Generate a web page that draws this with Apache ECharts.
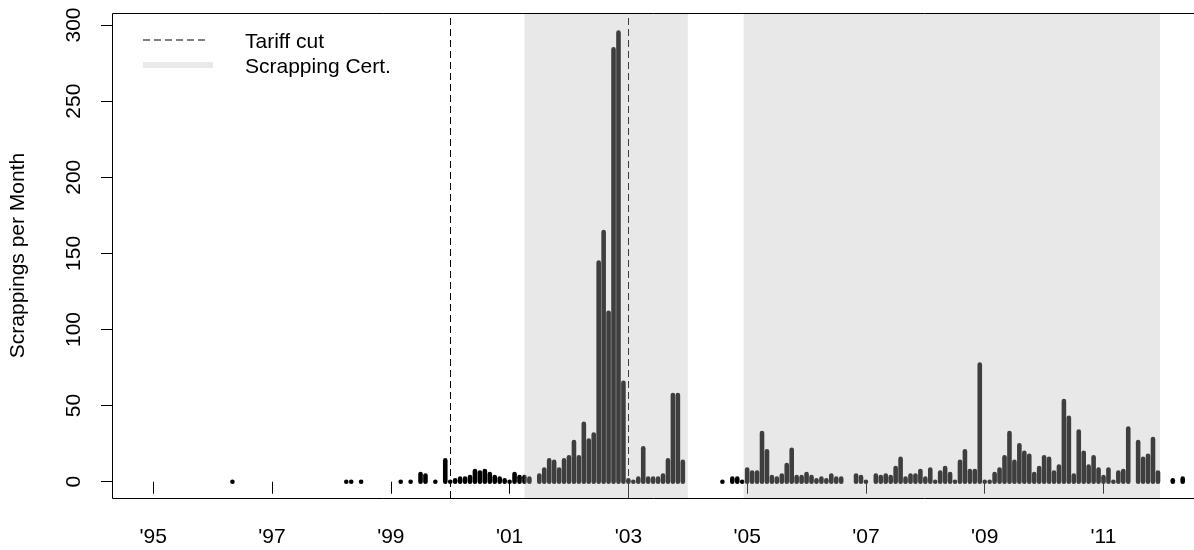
<!DOCTYPE html>
<html><head><meta charset="utf-8">
<script src="https://cdn.jsdelivr.net/npm/echarts@6/dist/echarts.min.js"></script>
<style>html,body{margin:0;padding:0;background:#fff}#c{width:1194px;height:550px}</style>
</head><body><div id="c"></div>
<script>
// ---- data ----
const months = [
"1996-05","1998-04","1998-05","1998-07","1999-03","1999-05","1999-07","1999-08","1999-10","1999-12",
"2000-01","2000-02","2000-03","2000-04","2000-05","2000-06","2000-07","2000-08","2000-09","2000-10","2000-11","2000-12",
"2001-01","2001-02","2001-03","2001-04","2001-05","2001-07","2001-08","2001-09","2001-10","2001-11","2001-12",
"2002-01","2002-02","2002-03","2002-04","2002-05","2002-06","2002-07","2002-08","2002-09","2002-10","2002-11","2002-12",
"2003-01","2003-02","2003-03","2003-04","2003-05","2003-06","2003-07","2003-08","2003-09","2003-10","2003-11","2003-12",
"2004-08","2004-10","2004-11","2004-12",
"2005-01","2005-02","2005-03","2005-04","2005-05","2005-06","2005-07","2005-08","2005-09","2005-10","2005-11","2005-12",
"2006-01","2006-02","2006-03","2006-04","2006-05","2006-06","2006-07","2006-08","2006-11","2006-12",
"2007-01","2007-03","2007-04","2007-05","2007-06","2007-07","2007-08","2007-09","2007-10","2007-11","2007-12",
"2008-01","2008-02","2008-03","2008-04","2008-05","2008-06","2008-07","2008-08","2008-09","2008-10","2008-11","2008-12",
"2009-01","2009-02","2009-03","2009-04","2009-05","2009-06","2009-07","2009-08","2009-09","2009-10","2009-11","2009-12",
"2010-01","2010-02","2010-03","2010-04","2010-05","2010-06","2010-07","2010-08","2010-09","2010-10","2010-11","2010-12",
"2011-01","2011-02","2011-03","2011-04","2011-05","2011-06","2011-08","2011-09","2011-10","2011-11","2011-12",
"2012-03","2012-05"
];
const counts = [
0,0,0,0,0,0,5,4,0,14,
0,1,2,2,3,7,6,7,5,3,2,1,
0,5,3,3,2,4,8,14,13,8,14,
16,26,16,38,27,31,144,164,111,284,295,65,
1,0,2,22,2,2,2,4,14,57,57,13,
0,2,2,0,
8,6,6,32,20,3,2,4,11,21,3,3,
5,3,1,2,1,4,2,2,4,3,
0,4,3,4,3,9,15,2,4,4,7,
2,8,0,6,9,5,0,13,20,7,7,77,
0,0,5,8,16,32,13,24,19,17,5,9,
16,15,6,10,53,42,4,33,19,10,16,8,
3,8,0,6,7,35,26,15,17,28,6,
1,2
];
const tariffCuts = [2000, 2003];
const certStart = [2001.25, 2004.94];
const certEnd = [2004.0, 2011.95];
const xTicks = [1995, 1997, 1999, 2001, 2003, 2005, 2007, 2009, 2011];
const yTicks = [0, 50, 100, 150, 200, 250, 300];

// ---- build ----
function toYear(s) { const p = s.split('-').map(Number); return p[0] + (p[1] - 1) / 12; }
const barData = months.map((m, i) => [toYear(m), counts[i]]);
const certData = certStart.map((s, i) => [s, certEnd[i]]);
const Y_MIN = -10.7, Y_MAX = 307.9;
const X_MIN = 1994.322, X_MAX = 2012.507;
const FONT = '"Liberation Sans", Arial, sans-serif';
const FS = 21;
const LW = 4.6;

const chart = echarts.init(document.getElementById('c'), null, { renderer: 'canvas' });
chart.setOption({
  animation: false,
  backgroundColor: '#fff',
  grid: { left: 112, top: 13, width: 1081, height: 485, show: false, containLabel: false },
  xAxis: {
    type: 'value', min: X_MIN, max: X_MAX,
    axisLine: { show: false }, splitLine: { show: false },
    axisTick: { show: true, customValues: xTicks, length: 12, lineStyle: { color: '#000', width: 1 } },
    axisLabel: { customValues: xTicks, formatter: v => "'" + String(v).slice(2), fontSize: FS, color: '#000', margin: 29, fontFamily: FONT }
  },
  yAxis: {
    type: 'value', min: Y_MIN, max: Y_MAX,
    axisLine: { show: false }, splitLine: { show: false },
    axisTick: { show: true, customValues: yTicks, length: 12, lineStyle: { color: '#000', width: 1 } },
    axisLabel: { customValues: yTicks, rotate: 90, fontSize: FS, color: '#000', margin: 28, fontFamily: FONT },
    name: 'Scrappings per Month', nameLocation: 'middle', nameRotate: 90, nameGap: 84,
    nameTextStyle: { fontSize: FS, color: '#000', fontFamily: FONT }
  },
  series: [
    {
      type: 'custom', z: 2, data: barData, encode: { x: 0, y: 1 }, silent: true,
      renderItem: function (params, api) {
        const p0 = api.coord([api.value(0), 0]);
        const p1 = api.coord([api.value(0), api.value(1)]);
        if (Math.abs(p0[1] - p1[1]) < 0.3) {
          return { type: 'circle', shape: { cx: p0[0], cy: p0[1], r: LW / 2 }, style: { fill: '#000' } };
        }
        return { type: 'line', shape: { x1: p0[0], y1: p0[1], x2: p1[0], y2: p1[1] },
                 style: { stroke: '#000', lineWidth: LW, lineCap: 'round' } };
      },
      markLine: {
        silent: true, symbol: ['none', 'none'], label: { show: false }, z: 5,
        lineStyle: { color: '#000', width: 1, type: [7, 4] },
        emphasis: { disabled: true },
        data: tariffCuts.map(x => ({ xAxis: x }))
      }
    },
    {
      type: 'custom', z: 10, data: certData, encode: { x: [0, 1] }, silent: true,
      renderItem: function (params, api) {
        const a = api.coord([api.value(0), Y_MAX]);
        const b = api.coord([api.value(1), Y_MIN]);
        return { type: 'rect', shape: { x: a[0], y: a[1], width: b[0] - a[0], height: b[1] - a[1] },
                 style: { fill: 'rgba(186,186,186,0.333)' } };
      }
    }
  ],
  graphic: [
    { type: 'rect', z: 20, shape: { x: 112.5, y: 13.5, width: 1100, height: 485 }, style: { fill: 'none', stroke: '#000', lineWidth: 1 } },
    { type: 'line', shape: { x1: 143, y1: 40, x2: 207, y2: 40 }, style: { stroke: '#000', lineWidth: 1, lineDash: [7, 4] } },
    { type: 'line', shape: { x1: 143, y1: 65, x2: 213, y2: 65 }, style: { stroke: '#e9e9e9', lineWidth: 6 } },
    { type: 'text', x: 245, y: 42, style: { text: 'Tariff cut', fill: '#000', font: FS + 'px ' + FONT, verticalAlign: 'middle', align: 'left' } },
    { type: 'text', x: 245, y: 67, style: { text: 'Scrapping Cert.', fill: '#000', font: FS + 'px ' + FONT, verticalAlign: 'middle', align: 'left' } }
  ]
});
</script>
</body></html>
